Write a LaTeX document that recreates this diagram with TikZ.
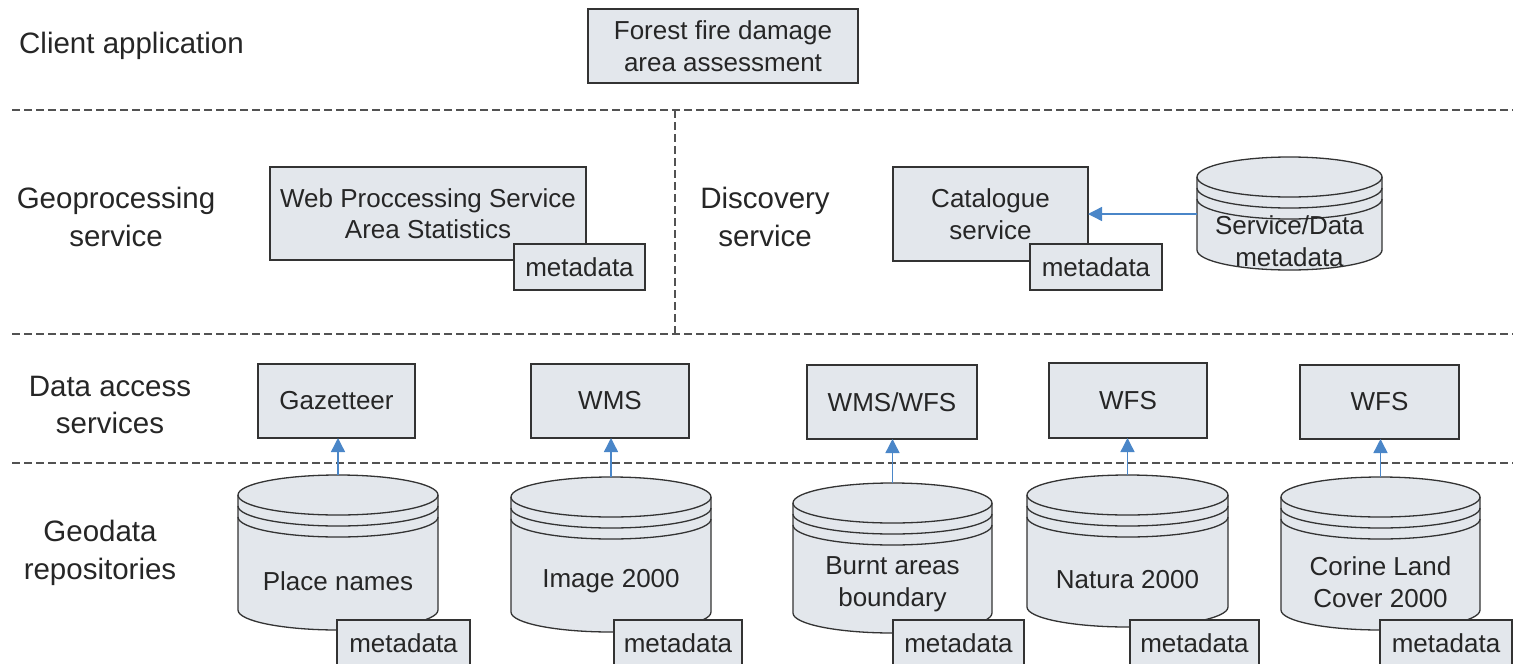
\documentclass[tikz,border=0pt]{standalone}
\usepackage{fontspec}
\setmainfont{Liberation Sans}
\usetikzlibrary{arrows.meta}
\definecolor{boxfill}{HTML}{E3E7EC}
\definecolor{edge}{HTML}{333333}
\definecolor{arrowblue}{HTML}{4A86C8}
\definecolor{txt}{HTML}{262626}
\tikzset{
  rowlabel/.style={font=\fontsize{29.5}{37.5}\selectfont, text=txt, align=center, inner sep=0pt},
  celltext/.style={font=\fontsize{26}{31.5}\selectfont, text=txt, align=center, inner sep=0pt},
  boxstyle/.style={draw=edge, fill=boxfill, line width=1.3pt, inner sep=0pt, outer sep=0pt,
    font=\fontsize{26}{31.5}\selectfont, text=txt, align=center},
  sep/.style={draw=edge!85, line width=1.2pt, dash pattern=on 8pt off 4pt},
  link/.style={draw=arrowblue, line width=1.4pt, -{Triangle[width=14pt,length=14pt]}},
  cylstyle/.style={draw=edge, fill=boxfill, line width=1.3pt},
  cylline/.style={draw=edge, line width=1.3pt}
}
% name, L, T, R, B, text
\newcommand\rbox[6]{%
  \pgfmathsetmacro\bx{(#2+#4)/2}\pgfmathsetmacro\by{-(#3+#5)/2}%
  \pgfmathsetmacro\bw{#4-#2}\pgfmathsetmacro\bh{#5-#3}%
  \node[boxstyle, minimum width=\bw pt, minimum height=\bh pt] (#1) at (\bx,\by) {#6};}
% name, L, R, side-top, side-bottom, text y, text
\newcommand\cyl[7]{%
  \pgfmathsetmacro\cx{(#2+#3)/2}\pgfmathsetmacro\rx{(#3-#2)/2}%
  \path[cylstyle] (#2,-#4) -- (#2,-#5) arc[start angle=180,end angle=360,x radius=\rx,y radius=20]
     -- (#3,-#4) arc[start angle=0,end angle=180,x radius=\rx,y radius=20] -- cycle;
  \draw[cylline] (#2,-#4) arc[start angle=180,end angle=360,x radius=\rx,y radius=20];
  \draw[cylline] (#2,{-#4-11}) arc[start angle=180,end angle=360,x radius=\rx,y radius=20];
  \draw[cylline] (#2,{-#4-22}) arc[start angle=180,end angle=360,x radius=\rx,y radius=20];
  \node[celltext] (#1) at (\cx,-#6) {#7};
  \coordinate (#1-top) at (\cx,{-#4+20});}
\begin{document}
\begin{tikzpicture}[x=1pt,y=1pt]
\useasboundingbox (0,0) rectangle (1513,-664);
% separators
\coordinate (s1a) at (12,-110); \coordinate (s1b) at (1513,-110);
\coordinate (s2a) at (12,-334); \coordinate (s2b) at (1513,-334);
\coordinate (s3a) at (12,-463); \coordinate (s3b) at (1513,-463);
\coordinate (v1a) at (675,-110); \coordinate (v1b) at (675,-334);
\draw[sep] (s1a) -- (s1b);
\draw[sep] (s2a) -- (s2b);
\draw[sep] (s3a) -- (s3b);
\draw[sep] (v1a) -- (v1b);
% row labels
\node[rowlabel, anchor=west] (client) at (19,-46) {Client application};
\node[rowlabel] (geoproc) at (116,-217) {Geoprocessing\\service};
\node[rowlabel] (disc) at (765,-217) {Discovery\\service};
\node[rowlabel] (dataacc) at (110,-405) {Data access\\services};
\node[rowlabel] (geodata) at (100,-553) {Geodata\\repositories};
% client
\rbox{forest}{588}{9}{858}{83}{Forest fire damage\\area assessment}
% geoprocessing
\rbox{wps}{270}{167}{586}{260}{Web Proccessing Service\\Area Statistics}
\rbox{wpsmeta}{514}{244}{645}{290}{metadata}
% discovery
\rbox{cat}{893}{167}{1088}{261}{Catalogue\\service}
\rbox{catmeta}{1030}{244}{1162}{290}{metadata}
\cyl{sdm}{1197}{1382}{177}{250}{241}{Service/Data\\metadata}
\coordinate (sdm-west) at (1197,-214);
\draw[link] (sdm-west) -- (sdm-west -| cat.east);
% data access services
\rbox{gaz}{258}{364}{415}{438}{Gazetteer}
\rbox{wms}{531}{364}{689}{438}{WMS}
\rbox{wmswfs}{807}{365}{977}{439}{WMS/WFS}
\rbox{wfsa}{1049}{363}{1207}{438}{WFS}
\rbox{wfsb}{1300}{365}{1459}{439}{WFS}
% repositories
\cyl{place}{238}{438}{495}{610}{581}{Place names}
\rbox{placemeta}{337}{620}{470}{667}{metadata}
\cyl{image}{511}{711}{497}{612}{581}{Image 2000}
\rbox{imagemeta}{614}{620}{742}{667}{metadata}
\cyl{burnt}{793}{992}{503}{613}{584}{Burnt areas\\boundary}
\rbox{burntmeta}{893}{620}{1024}{667}{metadata}
\cyl{natura}{1027}{1228}{495}{607}{580}{Natura 2000}
\rbox{naturameta}{1130}{620}{1259}{667}{metadata}
\cyl{corine}{1281}{1480}{497}{610}{582}{Corine Land\\Cover 2000}
\rbox{corinemeta}{1380}{620}{1512}{667}{metadata}
% links
\draw[link] (place-top) -- (place-top |- gaz.south);
\draw[link] (image-top) -- (image-top |- wms.south);
\draw[link] (burnt-top) -- (burnt-top |- wmswfs.south);
\draw[link] (natura-top) -- (natura-top |- wfsa.south);
\draw[link] (corine-top) -- (corine-top |- wfsb.south);
\end{tikzpicture}
\end{document}
